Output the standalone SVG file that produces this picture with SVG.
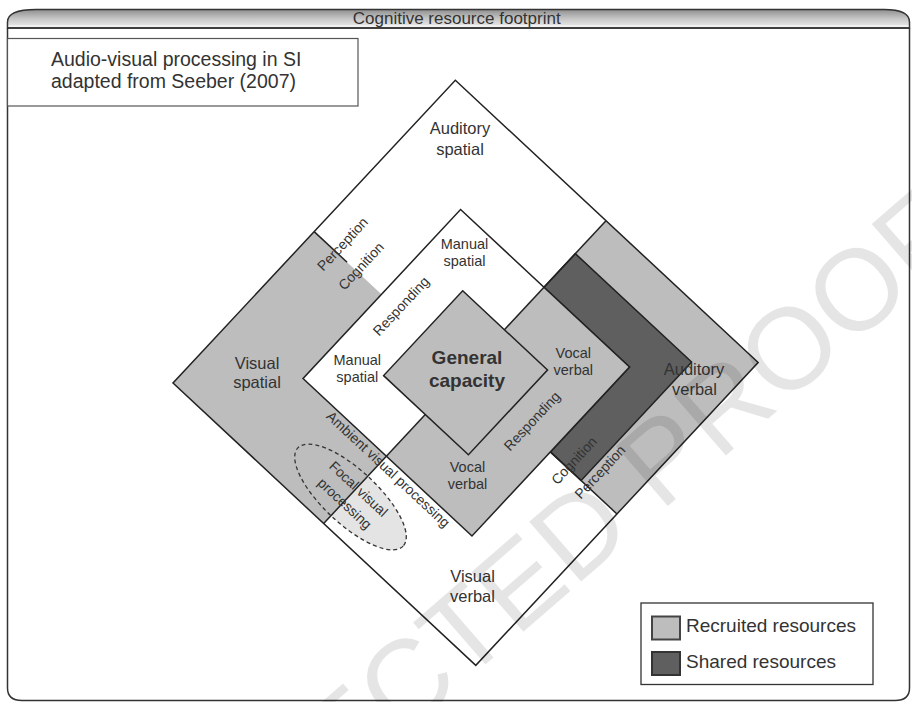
<svg xmlns="http://www.w3.org/2000/svg" width="912" height="702" viewBox="0 0 912 702">
  <defs>
    <linearGradient id="hdr" x1="0" y1="0" x2="0" y2="1">
      <stop offset="0" stop-color="#8f8f8f"/>
      <stop offset="0.5" stop-color="#c6c6c6"/>
      <stop offset="0.85" stop-color="#e4e4e4"/>
      <stop offset="1" stop-color="#f6f6f6"/>
    </linearGradient>
    <clipPath id="vvclip" clipPathUnits="userSpaceOnUse">
      <polygon transform="translate(173,383) rotate(-47)" points="0,206 92,206 92,323 207,323 207,414 0,414"/>
    </clipPath>
  </defs>
  <style>
    text { font-family: "Liberation Sans", Arial, sans-serif; fill: #333; }
    .lbl { font-size: 16.5px; text-anchor: middle; }
    .sm { font-size: 14.5px; text-anchor: middle; }
    .rot { font-size: 14px; text-anchor: middle; }
    .grey { fill: #bdbdbd; }
    .dark { fill: #5f5f5f; }
    .white { fill: #ffffff; }
    .edge { fill: none; stroke: #222; stroke-width: 1.5; stroke-linejoin: miter; }
    .div { stroke: #222; stroke-width: 1.5; fill: none; }
  </style>

  <rect x="0" y="0" width="912" height="702" fill="#ffffff"/>

  <!-- frame + header -->
  <g id="frame">
    <path d="M7.5,28 L7.5,688 Q7.5,700.5 22,700.5 L895,700.5 Q909.5,700.5 909.5,688 L909.5,28" fill="none" stroke="#333" stroke-width="1.5"/>
    <path d="M7.5,28 L7.5,22 Q7.5,9.5 36,9.5 L884,9.5 Q909.5,9.5 909.5,22 L909.5,28 Z" fill="url(#hdr)" stroke="#333" stroke-width="1.5"/>
    <line x1="8.5" y1="26" x2="908.5" y2="26" stroke="#fafafa" stroke-width="1"/>
    <line x1="7.5" y1="28" x2="909.5" y2="28" stroke="#333" stroke-width="1.5"/>
    <text x="456.7" y="24" font-size="17" text-anchor="middle" fill="#222">Cognitive resource footprint</text>
  </g>

  <g id="title-box">
    <rect x="7.5" y="38.5" width="350.5" height="67.5" fill="#ffffff" stroke="#555" stroke-width="1.2"/>
    <text x="51" y="65.5" font-size="19.5">Audio-visual processing in SI</text>
    <text x="51" y="87.5" font-size="19.5">adapted from Seeber (2007)</text>
  </g>

  <!-- diamond regions, local frame: x toward top vertex, y toward bottom vertex -->
  <g id="auditory-spatial">
    <polygon transform="translate(173,383) rotate(-47)" class="white" points="207,0 414,0 414,206 323,206 323,92 207,92"/>
  </g>
  <g id="visual-spatial">
    <polygon transform="translate(173,383) rotate(-47)" class="grey" points="0,0 207,0 207,92 92,92 92,206 0,206"/>
  </g>
  <g id="visual-verbal">
    <polygon transform="translate(173,383) rotate(-47)" class="white" points="0,206 92,206 92,323 207,323 207,414 0,414"/>
  </g>
  <g id="auditory-verbal">
    <polygon transform="translate(173,383) rotate(-47)" class="grey" points="323,206 414,206 414,414 207,414 207,323 323,323"/>
  </g>
  <g id="shared-cognition-band">
    <polygon transform="translate(173,383) rotate(-47)" class="dark" stroke="#222" stroke-width="1.5" points="323,206 369,206 369,365 207,365 207,323 323,323"/>
  </g>
  <g id="manual-spatial">
    <polygon transform="translate(173,383) rotate(-47)" class="white" points="92,92 323,92 323,206 265,206 265,149 149,149 149,206 92,206"/>
  </g>
  <g id="vocal-verbal">
    <polygon transform="translate(173,383) rotate(-47)" class="grey" points="92,206 149,206 149,265 265,265 265,206 323,206 323,323 92,323"/>
  </g>
  <g id="general-capacity">
    <rect transform="translate(173,383) rotate(-47)" class="grey" x="149" y="149" width="116" height="116"/>
  </g>

  <g id="focal-fill" clip-path="url(#vvclip)">
    <ellipse cx="350.5" cy="497" rx="72" ry="27" transform="rotate(43 350.5 497)" fill="#e4e4e4"/>
  </g>

  <!-- outlines and dividers -->
  <g id="connectors" transform="translate(173,383) rotate(-47)">
    <rect class="edge" x="0" y="0" width="414" height="414"/>
    <rect class="edge" x="92" y="92" width="231" height="231"/>
    <rect class="edge" x="149" y="149" width="116" height="116"/>
    <line class="div" x1="0" y1="206" x2="149" y2="206"/>
    <line class="div" x1="265" y1="206" x2="414" y2="206"/>
    <line class="div" x1="207" y1="0" x2="207" y2="45"/>
    <line class="div" x1="207" y1="323" x2="207" y2="414"/>
  </g>

  <g id="focal-visual-processing">
    <ellipse cx="350.5" cy="497" rx="72" ry="27" transform="rotate(43 350.5 497)" fill="none" stroke="#333" stroke-width="1.3" stroke-dasharray="4 3"/>
    <g transform="translate(351.75,496) rotate(43)">
      <text class="rot" x="0" y="-5">Focal visual</text>
      <text class="rot" x="0" y="15">processing</text>
    </g>
  </g>

  <!-- labels -->
  <g id="labels">
    <text class="lbl" x="460" y="133.5">Auditory</text>
    <text class="lbl" x="460" y="154.5">spatial</text>
    <text class="sm" x="464.5" y="248.5">Manual</text>
    <text class="sm" x="464.5" y="265.5">spatial</text>
    <text class="sm" x="357.3" y="364.5">Manual</text>
    <text class="sm" x="357.3" y="382">spatial</text>
    <text class="lbl" x="257" y="369">Visual</text>
    <text class="lbl" x="257" y="387.5">spatial</text>
    <text x="467" y="363.5" font-size="19" font-weight="bold" text-anchor="middle" fill="#2a2a2a">General</text>
    <text x="467" y="387" font-size="19" font-weight="bold" text-anchor="middle" fill="#2a2a2a">capacity</text>
    <text class="sm" x="573.3" y="358">Vocal</text>
    <text class="sm" x="573.3" y="375">verbal</text>
    <text class="sm" x="467.5" y="472">Vocal</text>
    <text class="sm" x="467.5" y="488.5">verbal</text>
    <text class="lbl" x="694" y="374.5">Auditory</text>
    <text class="lbl" x="694.5" y="395">verbal</text>
    <text class="lbl" x="472.5" y="581.7">Visual</text>
    <text class="lbl" x="472.5" y="602">verbal</text>

    <text class="rot" transform="translate(342.5,244) rotate(-47)" dy="0.35em">Perception</text>
    <text class="rot" transform="translate(361,266) rotate(-47)" dy="0.35em">Cognition</text>
    <text class="rot" transform="translate(401,306) rotate(-47)" dy="0.35em">Responding</text>
    <text class="rot" transform="translate(532,421) rotate(-47)" dy="0.35em">Responding</text>
    <text class="rot" transform="translate(574,460.5) rotate(-47)" dy="0.35em">Cognition</text>
    <text class="rot" transform="translate(600,472) rotate(-47)" dy="0.35em">Perception</text>
    <text class="rot" transform="translate(388.3,469.2) rotate(43)" dy="0.35em">Ambient visual processing</text>
  </g>

  <g id="legend">
    <rect x="641" y="603" width="232" height="81.5" fill="#ffffff" stroke="#333" stroke-width="1.3"/>
    <rect x="652" y="616.5" width="28" height="23" fill="#bdbdbd" stroke="#444" stroke-width="2"/>
    <rect x="652" y="652" width="28" height="23" fill="#5f5f5f" stroke="#333" stroke-width="2"/>
    <text x="686" y="632" font-size="19">Recruited resources</text>
    <text x="686" y="668" font-size="19">Shared resources</text>
  </g>

  <g id="watermark">
    <text transform="translate(87,1011) rotate(-41)" font-size="115" style="fill:#000;fill-opacity:0.1">CORRECTED PROOFS</text>
  </g>
</svg>
